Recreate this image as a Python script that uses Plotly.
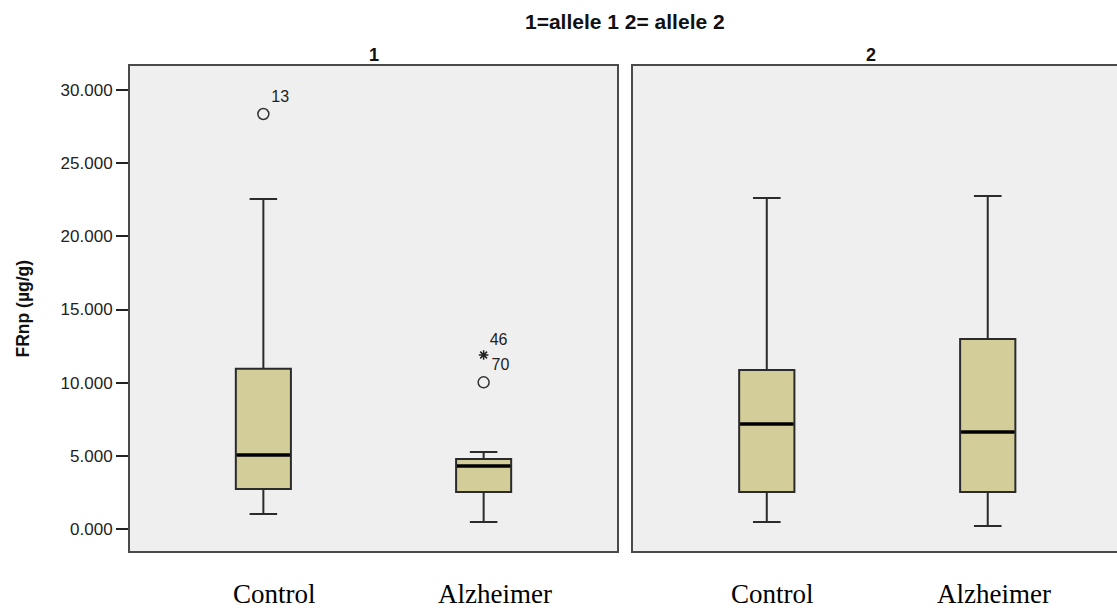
import plotly.graph_objects as go

# ---------------- data ----------------
groups = ["Control", "Alzheimer"]

# allele 1 panel
a1_q1 = [2733, 2528]
a1_median = [5057, 4305]
a1_q3 = [10955, 4784]
a1_lower = [1025, 478]
a1_upper = [22552, 5262]

# allele 2 panel
a2_q1 = [2528, 2528]
a2_median = [7176, 6629]
a2_q3 = [10866, 12984]
a2_lower = [478, 205]
a2_upper = [22620, 22757]

# outliers (allele 1 panel)
circ_x = ["Control", "Alzheimer"]
circ_y = [28360, 10025]
circ_id = ["13", "70"]
star_x = ["Alzheimer"]
star_y = [11891]
star_id = ["46"]

y_ticks = [0, 5000, 10000, 15000, 20000, 25000, 30000]
y_ticktext = ["0.000", "5.000", "10.000", "15.000", "20.000", "25.000", "30.000"]

title_text = "1=allele 1 2= allele 2"
panel_titles = ["1", "2"]
y_title = "FRnp (µg/g)"

# ---------------- style ----------------
BOX_FILL = "#D3CE99"
BOX_LINE = "#2b2b2b"
PANEL_BG = "#EFEFEF"
BORDER = "#4a4a4a"
SANS = "Liberation Sans, Arial, sans-serif"
SERIF = "Liberation Serif, Times New Roman, serif"

W, H = 1117, 612
ML, MR, MT, MB = 129, 0, 65, 60
plot_w = W - ML - MR
plot_h = H - MT - MB
dom1 = [0, (618 - ML) / plot_w]
dom2 = [(632 - ML) / plot_w, 1]

fig = go.Figure()

def add_panel(q1, med, q3, lo, hi, xa, ya):
    fig.add_trace(go.Box(
        x=groups, q1=q1, median=med, q3=q3, lowerfence=lo, upperfence=hi,
        boxpoints=False, fillcolor=BOX_FILL,
        line=dict(color=BOX_LINE, width=2), width=0.25, whiskerwidth=0.5,
        xaxis=xa, yaxis=ya, showlegend=False, hoverinfo="skip"))
    # thick median line
    fig.add_trace(go.Scatter(
        x=groups, y=med, mode="markers", xaxis=xa, yaxis=ya,
        marker=dict(symbol="line-ew", size=38, color="black",
                    line=dict(color="black", width=3.5)),
        showlegend=False, hoverinfo="skip"))

add_panel(a1_q1, a1_median, a1_q3, a1_lower, a1_upper, "x", "y")
add_panel(a2_q1, a2_median, a2_q3, a2_lower, a2_upper, "x2", "y2")

fig.add_trace(go.Scatter(
    x=circ_x, y=circ_y, mode="markers+text", text=circ_id,
    textposition="top right", textfont=dict(family=SANS, size=16, color="#222"),
    marker=dict(symbol="circle-open", size=11, color="#333", line=dict(width=1.5)),
    xaxis="x", yaxis="y", showlegend=False, hoverinfo="skip"))
fig.add_trace(go.Scatter(
    x=star_x, y=star_y, mode="markers+text", text=star_id,
    textposition="top right", textfont=dict(family=SANS, size=16, color="#222"),
    marker=dict(symbol="asterisk-open", size=8, color="#222", line=dict(width=1.5)),
    xaxis="x", yaxis="y", showlegend=False, hoverinfo="skip"))

yr = [-1572, 31709]
common_x = dict(type="category", categoryorder="array", categoryarray=groups,
                showticklabels=False, ticks="", showgrid=False, zeroline=False,
                showline=False, fixedrange=True)
fig.update_layout(
    width=W, height=H,
    margin=dict(l=ML, r=MR, t=MT, b=MB),
    paper_bgcolor="white", plot_bgcolor=PANEL_BG,
    xaxis=dict(domain=dom1, range=[-0.61, 1.61], anchor="y", **common_x),
    xaxis2=dict(domain=dom2, range=[-0.61, 1.585], anchor="y2", **common_x),
    yaxis=dict(domain=[0, 1], range=yr, tickvals=y_ticks, ticktext=y_ticktext,
               ticks="outside", ticklen=12, tickwidth=2, tickcolor="#222",
               tickfont=dict(family=SANS, size=17, color="#222"),
               showgrid=False, zeroline=False, showline=False, anchor="x"),
    yaxis2=dict(domain=[0, 1], range=yr, showticklabels=False, ticks="",
                showgrid=False, zeroline=False, showline=False, anchor="x2"),
    showlegend=False,
)

# panel borders
fig.add_shape(type="rect", xref="x domain", yref="y domain", x0=0, x1=1, y0=0, y1=1,
              line=dict(color=BORDER, width=2), layer="above")
fig.add_shape(type="path", xref="x2 domain", yref="y2 domain",
              path="M 1.02,0 L 0,0 L 0,1 L 1.02,1",
              line=dict(color=BORDER, width=2), layer="above")

ann = []
ann.append(dict(text="<b>" + title_text + "</b>", xref="paper", yref="paper",
                x=(625 - ML) / plot_w, y=1 + (MT - 22) / plot_h,
                showarrow=False, font=dict(family=SANS, size=21, color="#111"),
                xanchor="center", yanchor="middle"))
ann.append(dict(text="<b>" + panel_titles[0] + "</b>", xref="x domain", yref="paper",
                x=0.5, y=1, yshift=10, showarrow=False,
                font=dict(family=SANS, size=18, color="#111"), yanchor="middle"))
ann.append(dict(text="<b>" + panel_titles[1] + "</b>", xref="paper", yref="paper",
                x=(878 - ML) / plot_w, y=1, yshift=10, showarrow=False,
                font=dict(family=SANS, size=18, color="#111"), yanchor="middle"))
ann.append(dict(text="<b>" + y_title + "</b>", xref="paper", yref="paper",
                x=(22 - ML) / plot_w, y=0.5, textangle=-90, showarrow=False,
                font=dict(family=SANS, size=17.5, color="#111"),
                xanchor="center", yanchor="middle"))
for xa, shift in (("x", 11), ("x2", 6)):
    for g in groups:
        ann.append(dict(text=g, xref=xa, yref="paper", x=g, y=-42 / plot_h,
                        xshift=shift, showarrow=False, borderpad=0,
                        font=dict(family=SERIF, size=27, color="black"),
                        xanchor="center", yanchor="middle"))
fig.update_layout(annotations=ann)

fig.write_html("out.html")
